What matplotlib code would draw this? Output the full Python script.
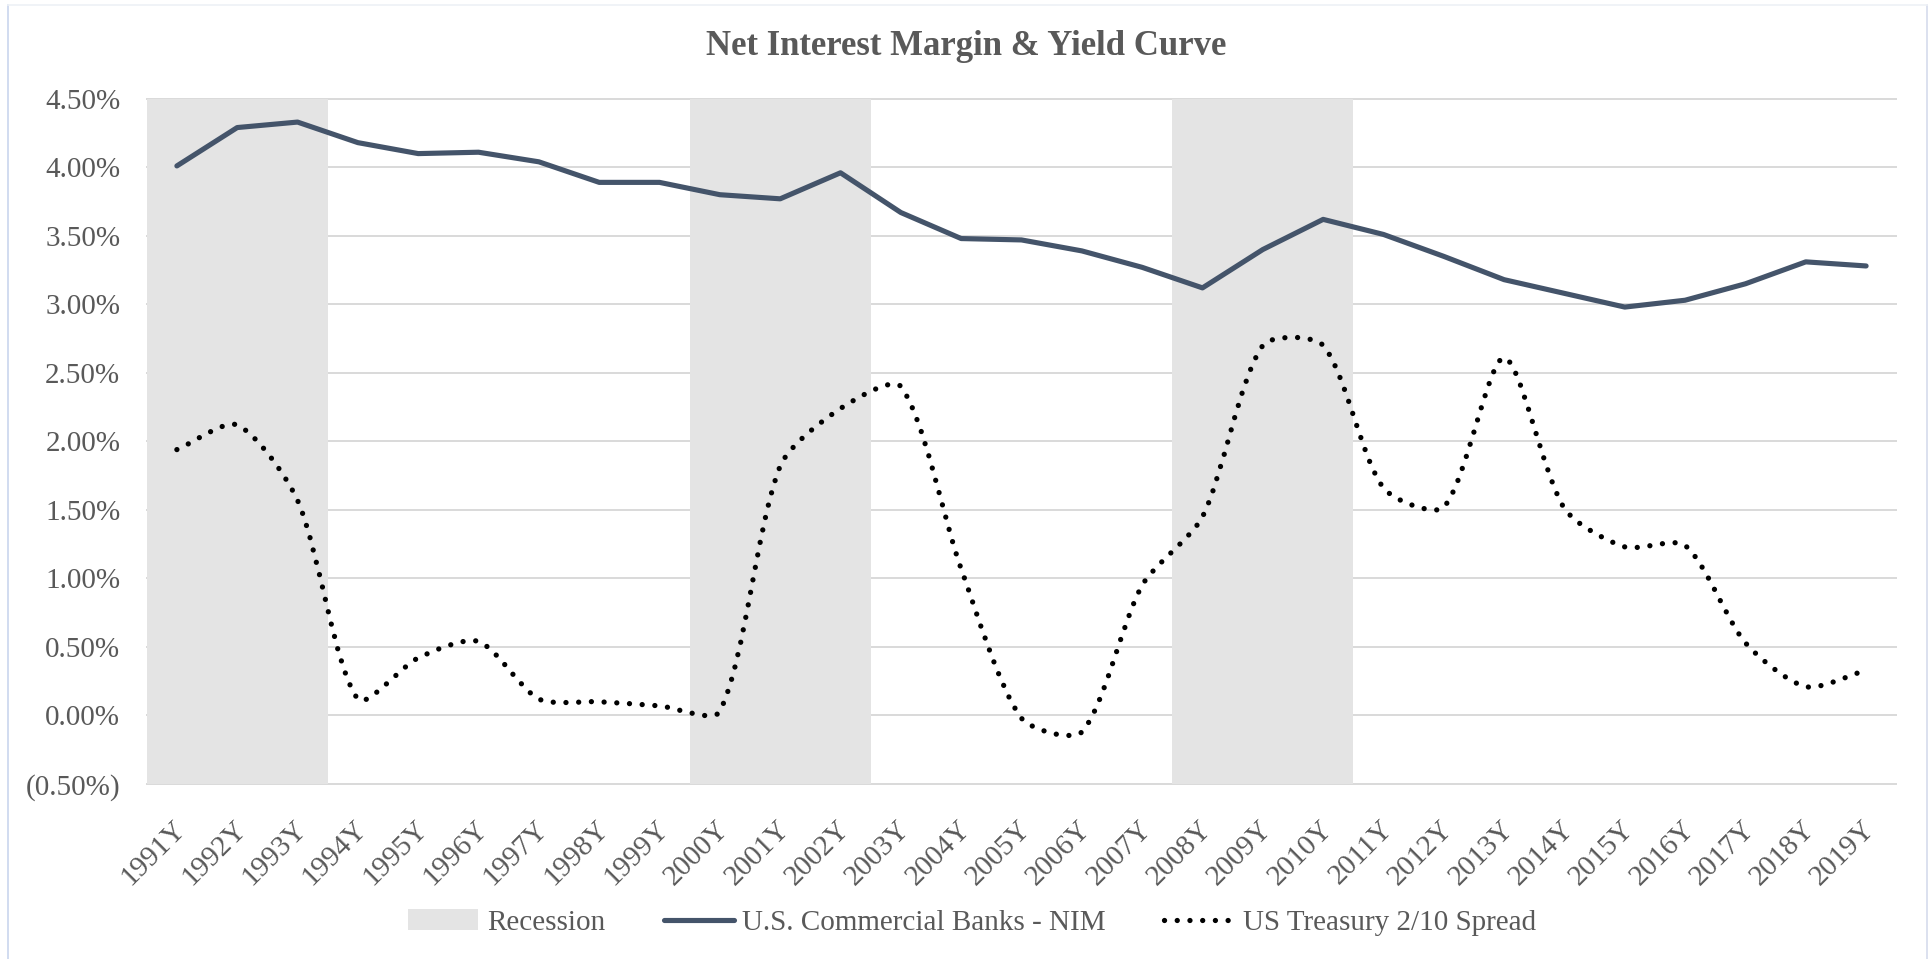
import matplotlib
matplotlib.use("Agg")
import matplotlib.pyplot as plt
import numpy as np
from matplotlib.path import Path
from matplotlib.patches import PathPatch, Patch
from matplotlib.lines import Line2D
from matplotlib.ticker import FuncFormatter
from matplotlib.transforms import ScaledTranslation

years = [f"{y}Y" for y in range(1991, 2020)]
recession = [1, 1, 1, 0, 0, 0, 0, 0, 0, 1, 1, 1, 0, 0, 0, 0, 0, 1, 1, 1,
             0, 0, 0, 0, 0, 0, 0, 0, 0]
nim = [4.01, 4.29, 4.33, 4.18, 4.10, 4.11, 4.04, 3.89, 3.89, 3.80,
       3.77, 3.96, 3.67, 3.48, 3.47, 3.39, 3.27, 3.12, 3.40, 3.62,
       3.51, 3.35, 3.18, 3.08, 2.98, 3.03, 3.15, 3.31, 3.28]
spread = [1.94, 2.12, 1.57, 0.12, 0.42, 0.54, 0.12, 0.10, 0.07, 0.03,
          1.82, 2.24, 2.40, 1.07, -0.02, -0.12, 0.95, 1.45, 2.70, 2.70,
          1.66, 1.52, 2.61, 1.51, 1.23, 1.24, 0.53, 0.21, 0.33]
yticks = [-0.5, 0.0, 0.5, 1.0, 1.5, 2.0, 2.5, 3.0, 3.5, 4.0, 4.5]

TXT = "#595959"
plt.rcParams["font.family"] = ["Liberation Serif", "DejaVu Serif"]

W, H = 19.33, 9.59
fig = plt.figure(figsize=(W, H), dpi=100)
ax_l, ax_r, ax_b, ax_t = 0.0759, 0.981, 0.1825, 0.897
ax = fig.add_axes([ax_l, ax_b, ax_r - ax_l, ax_t - ax_b])

x = np.arange(len(years))
ymin, ymax = yticks[0], yticks[-1]

ax.bar(x, np.array(recession) * (ymax - ymin), bottom=ymin, width=1.0,
       color="#e4e4e4", zorder=1, linewidth=0)

ax.plot(x, nim, color="#44546a", lw=3.7, solid_capstyle="round",
        solid_joinstyle="round", zorder=3)

ax.set_xlim(-0.5, len(years) - 0.5)
ax.set_ylim(ymin, ymax)

# Excel-style smoothed spread line: cubic Bezier segments whose handle
# lengths are weighted by neighbouring segment lengths in screen space.
sx = (ax_r - ax_l) * W * 100 / len(years)        # px per category
sy = (ax_t - ax_b) * H * 100 / (ymax - ymin)     # px per percentage point
P = np.column_stack([x * sx, np.array(spread) * sy]).astype(float)
n = len(P)
t = 0.26
cin = [None] * n
cout = [None] * n
for i in range(n):
    prv = P[i - 1] if i > 0 else P[i]
    nxt = P[i + 1] if i < n - 1 else P[i]
    d01 = np.hypot(*(P[i] - prv))
    d12 = np.hypot(*(nxt - P[i]))
    tot = d01 + d12 if d01 + d12 > 0 else 1.0
    fa = t * d01 / tot
    fb = t * d12 / tot
    cin[i] = P[i] - fa * (nxt - prv)
    cout[i] = P[i] + fb * (nxt - prv)
verts = [P[0]]
codes = [Path.MOVETO]
for i in range(n - 1):
    verts += [cout[i], cin[i + 1], P[i + 1]]
    codes += [Path.CURVE4] * 3
verts = np.array(verts) / np.array([sx, sy])
DOT = (0, (0.01, 2.4))
patch = PathPatch(Path(verts, codes), fill=False, edgecolor="black", lw=3.8,
                  linestyle=DOT, capstyle="round", zorder=4)
ax.add_patch(patch)

ax.set_yticks(yticks)


def fmt(v, pos):
    if v < 0:
        return f"({abs(v):.2f}%)"
    return f"{v:.2f}%"


ax.yaxis.set_major_formatter(FuncFormatter(fmt))
ax.set_xticks(x)
ax.set_xticklabels(years, rotation=45, ha="right", rotation_mode="anchor")
ax.tick_params(axis="both", length=0, labelsize=21, labelcolor=TXT)
ax.tick_params(axis="x", pad=23)
ax.tick_params(axis="y", pad=19)
shift = ScaledTranslation(-0.04, 0, fig.dpi_scale_trans)
for lbl in ax.get_xticklabels():
    lbl.set_transform(lbl.get_transform() + shift)
for s in ax.spines.values():
    s.set_visible(False)
ax.set_axisbelow(True)
ax.yaxis.grid(True, color="#d9d9d9", lw=1.4)
ax.xaxis.grid(False)
for gl in ax.yaxis.get_gridlines():
    gl.set_clip_on(False)

fig.text(0.5, 0.952, "Net Interest Margin & Yield Curve", ha="center",
         va="center", fontsize=25, fontweight="bold", color=TXT)

handles = [
    Patch(facecolor="#e4e4e4", edgecolor="none"),
    Line2D([0], [0], color="#44546a", lw=3.7, solid_capstyle="round"),
    Line2D([0], [0], color="black", lw=3.8, linestyle=DOT,
           dash_capstyle="round"),
]
labels = ["Recession", "U.S. Commercial Banks - NIM", "US Treasury 2/10 Spread"]
fig.legend(handles, labels, loc="center", bbox_to_anchor=(0.503, 0.038),
           ncol=3, frameon=False, fontsize=21, labelcolor=TXT,
           handlelength=2.4, handletextpad=0.3, columnspacing=2.0)

# faint chart border
fig.add_artist(Line2D([0.0042, 0.0042], [0.0, 0.995], transform=fig.transFigure,
                      color="#c9d5ee", lw=1.2))
fig.add_artist(Line2D([0.9968, 0.9968], [0.0, 0.995], transform=fig.transFigure,
                      color="#d5dcec", lw=1.2))
fig.add_artist(Line2D([0.0042, 0.9968], [0.995, 0.995], transform=fig.transFigure,
                      color="#eef1f6", lw=1.2))

fig.savefig("out.png", dpi=100, facecolor="white")
